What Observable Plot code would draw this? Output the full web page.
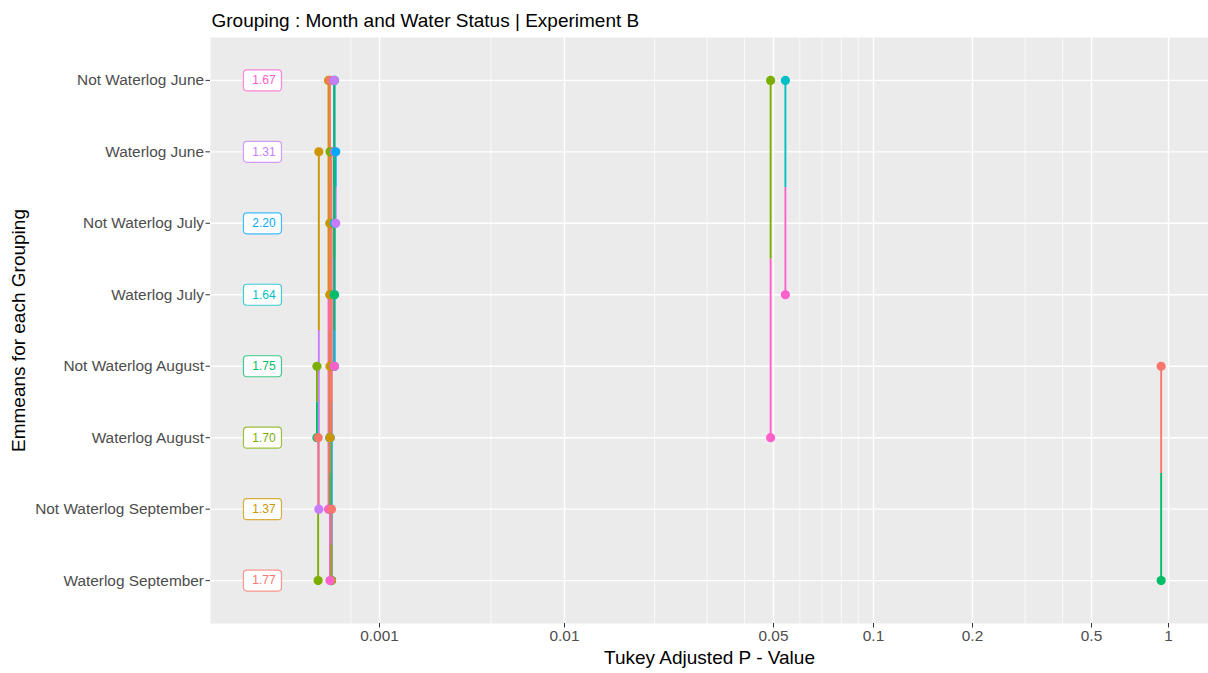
<!DOCTYPE html>
<html>
<head>
<meta charset="utf-8">
<script src="https://cdn.jsdelivr.net/npm/d3@7"></script>
<script src="https://cdn.jsdelivr.net/npm/@observablehq/plot@0.6"></script>
<style>
  html, body { margin: 0; padding: 0; background: #ffffff; }
  #chart svg { display: block; }
</style>
</head>
<body>
<div id="chart"></div>
<script>
// Groupings, listed from the top row down
const groups = [
  "Not Waterlog June",
  "Waterlog June",
  "Not Waterlog July",
  "Waterlog July",
  "Not Waterlog August",
  "Waterlog August",
  "Not Waterlog September",
  "Waterlog September"
];
// Estimated marginal mean of each grouping
const emmeans = [1.67, 1.31, 2.20, 1.64, 1.75, 1.70, 1.37, 1.77];
// ggplot hue palette, one colour per grouping
const palette = ["#FF61CC", "#C77CFF", "#00A9FF", "#00BFC4", "#00BE67", "#7CAE00", "#CD9600", "#F8766D"];

// x axis breaks
const xBreaks = [0.001, 0.01, 0.05, 0.1, 0.2, 0.5, 1];
const xBreakLabels = ["0.001", "0.01", "0.05", "0.1", "0.2", "0.5", "1"];
const xMinorBreaks = [0.0007, 0.004, 0.02, 0.03, 0.04, 0.06, 0.07, 0.08, 0.09, 0.3, 0.4];

// Tukey pairwise comparisons (first group, second group, adjusted p)
const pairFirst = [
  "Not Waterlog August", "Not Waterlog June", "Not Waterlog June",
  "Waterlog June", "Not Waterlog August", "Waterlog August",
  "Waterlog June", "Waterlog June", "Not Waterlog July", "Not Waterlog July", "Not Waterlog July",
  "Waterlog July", "Waterlog July", "Waterlog July", "Waterlog August", "Not Waterlog August",
  "Not Waterlog June", "Not Waterlog September", "Not Waterlog June",
  "Not Waterlog June", "Not Waterlog July", "Waterlog June", "Waterlog June", "Not Waterlog July",
  "Waterlog July", "Not Waterlog June", "Not Waterlog June", "Waterlog June"
];
const pairSecond = [
  "Waterlog September", "Waterlog August", "Waterlog July",
  "Not Waterlog September", "Waterlog August", "Waterlog September",
  "Waterlog September", "Waterlog August", "Waterlog August", "Waterlog September", "Not Waterlog September",
  "Waterlog August", "Waterlog September", "Not Waterlog September", "Not Waterlog September", "Not Waterlog September",
  "Not Waterlog September", "Waterlog September", "Waterlog September",
  "Not Waterlog July", "Not Waterlog August", "Waterlog July", "Not Waterlog August", "Waterlog July",
  "Not Waterlog August", "Not Waterlog August", "Waterlog June", "Not Waterlog July"
];
const pairP = [
  0.936, 0.0489, 0.0543,
  0.00047, 0.000459, 0.000466,
  0.00055, 0.00054, 0.00054, 0.00055, 0.00054,
  0.00054, 0.00055, 0.00054, 0.00054, 0.00054,
  0.00053, 0.00055, 0.00054,
  0.00057, 0.00057, 0.00057, 0.00057, 0.00057,
  0.00057, 0.00057, 0.00057, 0.00058
];

// x position at which the emmean labels sit
const labelP = 0.000233;

const rowOf = (name) => groups.indexOf(name);

// Each comparison is drawn as two half segments: from each group's row to the
// midpoint, coloured by the other group, ending in a dot on that row.
const ends = pairFirst.flatMap((a, i) => {
  const b = pairSecond[i];
  const mid = (rowOf(a) + rowOf(b)) / 2;
  return [
    {row: rowOf(a), mid, partner: b, p: pairP[i]},
    {row: rowOf(b), mid, partner: a, p: pairP[i]}
  ];
});
// segments are layered by colour group, in legend order
const segments = ends.slice().sort((u, v) => rowOf(u.partner) - rowOf(v.partner));

// Rounded rectangle used behind each emmean label
const labelBox = {
  draw(context) {
    const w = 19, h = 10.5, r = 3.5;
    context.moveTo(-w + r, -h);
    context.arcTo(w, -h, w, h, r);
    context.arcTo(w, h, -w, h, r);
    context.arcTo(-w, h, -w, -h, r);
    context.arcTo(-w, -h, w, -h, r);
    context.closePath();
  }
};

const rows = d3.range(groups.length);
const breakLabel = (d) => {
  const i = xBreaks.findIndex((b) => Math.abs(Math.log10(b / d)) < 1e-6);
  return i >= 0 ? xBreakLabels[i] : String(d);
};

const chart = Plot.plot({
  width: 1208,
  height: 673,
  marginLeft: 210,
  marginRight: 0,
  marginTop: 37,
  marginBottom: 50,
  style: {
    fontFamily: '"Liberation Sans", Arial, Helvetica, sans-serif',
    background: "#ffffff",
    color: "#000000"
  },
  x: {
    type: "log",
    domain: xBreaks,
    range: [379, 564, 773, 873, 972, 1091, 1168]
  },
  y: {
    type: "linear",
    domain: [groups.length - 0.4, -0.6]
  },
  color: {type: "ordinal", domain: groups, range: palette},
  marks: [
    // panel background and grid
    Plot.frame({fill: "#EBEBEB", stroke: "none"}),
    Plot.ruleX(xMinorBreaks, {stroke: "#ffffff", strokeWidth: 0.7}),
    Plot.ruleX(xBreaks, {stroke: "#ffffff", strokeWidth: 1.4}),
    Plot.ruleY(rows, {stroke: "#ffffff", strokeWidth: 1.4}),

    // axes
    Plot.axisX({
      ticks: xBreaks,
      text: null,
      tickSize: 4.5,
      stroke: "#333333",
      label: null
    }),
    Plot.text(xBreaks, {
      x: (d) => d,
      frameAnchor: "bottom",
      text: breakLabel,
      dy: 17,
      fontSize: 15.4,
      fill: "#4D4D4D"
    }),
    Plot.axisY({
      ticks: rows,
      tickFormat: (i) => groups[i],
      tickSize: 4.5,
      tickPadding: 2,
      fontSize: 15.4,
      fill: "#4D4D4D",
      stroke: "#333333",
      label: null
    }),

    // comparison segments and their end dots
    Plot.ruleX(segments, {x: "p", y1: "row", y2: "mid", stroke: "partner", strokeWidth: 1.9}),
    Plot.dot(ends, {x: "p", y: "row", fill: "partner", r: 4.6}),

    // emmean labels
    Plot.dot(groups, {
      x: () => labelP,
      y: (d, i) => i,
      symbol: labelBox,
      fill: "#ffffff",
      stroke: (d) => d,
      strokeWidth: 1.2,
      strokeOpacity: 0.75
    }),
    Plot.text(groups, {
      x: () => labelP,
      y: (d, i) => i,
      text: (d, i) => emmeans[i].toFixed(2),
      fill: (d) => d,
      fontSize: 12,
      dx: 1.5
    }),

    // titles
    Plot.text(["Grouping : Month and Water Status | Experiment B"], {
      frameAnchor: "top-left",
      textAnchor: "start",
      dx: 1,
      dy: -24,
      fontSize: 19,
      fill: "#000000"
    }),
    Plot.text(["Tukey Adjusted P - Value"], {
      frameAnchor: "bottom",
      dy: 40,
      fontSize: 19,
      fill: "#000000"
    }),
    Plot.text(["Emmeans for each Grouping"], {
      frameAnchor: "left",
      textAnchor: "middle",
      rotate: -90,
      dx: -192,
      fontSize: 19,
      fill: "#000000"
    })
  ]
});

document.getElementById("chart").appendChild(chart);
</script>
</body>
</html>
